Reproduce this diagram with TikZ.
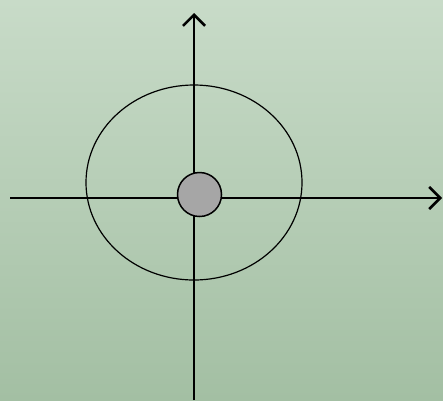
\documentclass[tikz,border=0pt]{standalone}
\usetikzlibrary{arrows.meta}

\definecolor{bgtop}{RGB}{200,219,200}
\definecolor{bgbot}{RGB}{163,191,163}
\definecolor{dotgrey}{RGB}{166,166,166}

\begin{document}
\begin{tikzpicture}[x=1pt, y=-1pt, >={Straight Barb[length=11pt,width=22pt]}]
  % background
  \shade[top color=bgtop, bottom color=bgbot] (0,0) rectangle (443,400);
  \useasboundingbox (0,0) rectangle (443,400);

  \coordinate (xl) at (10,198);
  \coordinate (xr) at (442,198);
  \coordinate (yb) at (194,400);
  \coordinate (yt) at (194,13);
  \coordinate (orbit) at (194,182.5);

  % orbit
  \draw[line width=1.2pt] (orbit) ellipse (108 and 97.5);

  % axes
  \draw[->, line width=2.6pt] (xl) -- (xr);
  \draw[->, line width=2.6pt] (yb) -- (yt);

  % central body
  \node[circle, draw, line width=1.5pt, fill=dotgrey, minimum size=44pt, inner sep=0pt]
    (body) at (199.5,194.5) {};
\end{tikzpicture}
\end{document}
